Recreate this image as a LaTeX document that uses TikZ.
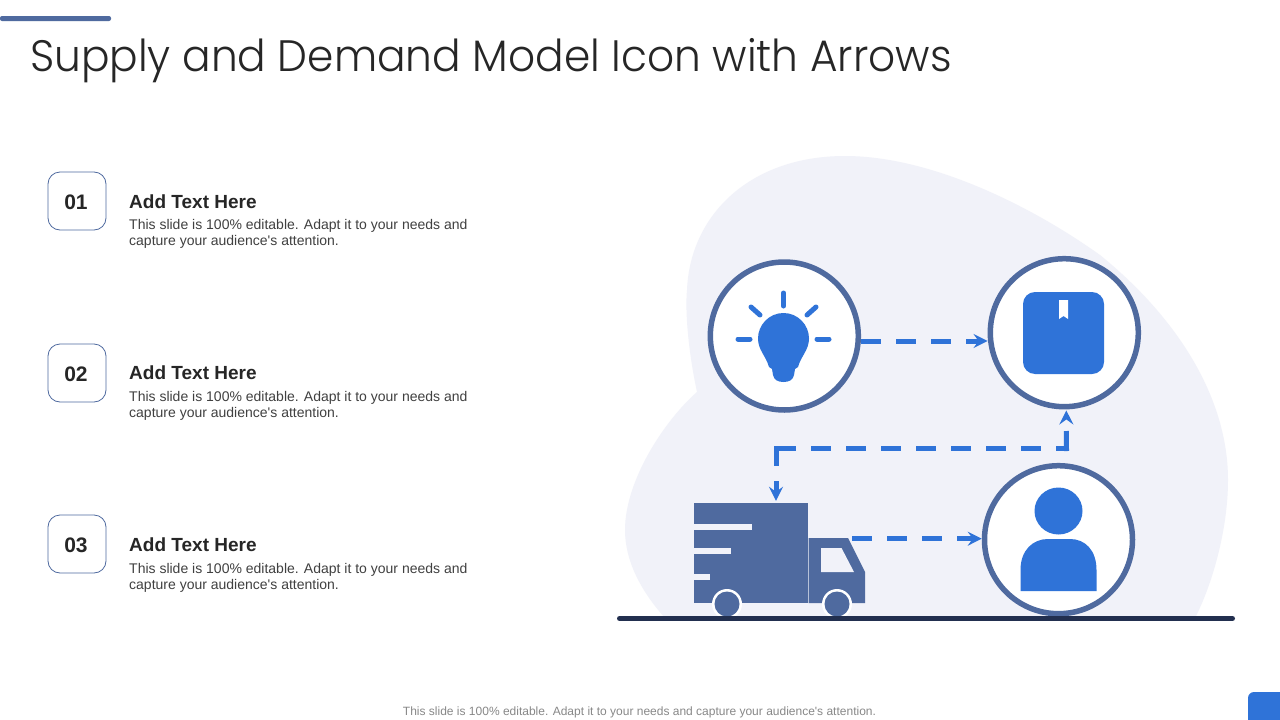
\documentclass[tikz,border=0pt]{standalone}
\usepackage{fontspec}
\usepackage{graphicx}
\setmainfont{Liberation Sans}
\newfontfamily\titlefont{Poppins Light}
\usetikzlibrary{arrows.meta,calc}
\definecolor{blobc}{HTML}{F1F2F9}
\definecolor{ringc}{HTML}{4F6A9F}
\definecolor{bluec}{HTML}{2F73D8}
\definecolor{barc}{HTML}{222F4F}
\definecolor{headc}{HTML}{262626}
\definecolor{bodyc}{HTML}{404040}
\tikzset{
  ringnode/.style={circle,draw=ringc,line width=5.5pt,fill=white,minimum size=148pt,inner sep=0pt},
  numbox/.style={draw=ringc,line width=0.8pt,rounded corners=12pt,minimum size=58pt,inner sep=0pt},
  numtxt/.style={anchor=center,inner sep=0pt,text=headc,font=\fontsize{21}{24}\selectfont\bfseries},
  headtxt/.style={anchor=base west,inner sep=0pt,text=headc,font=\fontsize{19}{22}\selectfont\bfseries},
  bodytxt/.style={anchor=north west,inner sep=0pt,text=bodyc,align=left,font=\fontsize{14}{16}\selectfont},
  dashline/.style={draw=bluec,line width=5pt,dash pattern=on 20pt off 15pt},
  tipped/.style={-{Stealth[length=14pt,width=14pt,inset=5pt]}},
  ray/.style={draw=bluec,line width=5pt,line cap=round},
}
\begin{document}
\begin{tikzpicture}[x=1pt,y=-1pt]
\useasboundingbox (0,0) rectangle (1280,720);
\fill[white] (0,0) rectangle (1280,720);
% header
\fill[ringc,rounded corners=2pt] (0,16) rectangle (111,21);
\node[anchor=base west,inner sep=0pt,text=headc,font=\titlefont\fontsize{44}{50}\selectfont] (title) at (30,71) {\scalebox{0.961}[1]{Supply and Demand Model Icon with Arrows}};
% list
\node[numbox] (n1) at (77,201) {};
\node[numbox] (n2) at (77,373) {};
\node[numbox] (n3) at (77,544) {};
\node[numtxt] (t1) at (76,202) {01};
\node[numtxt] (t2) at (76,374) {02};
\node[numtxt] (t3) at (76,545) {03};
\node[headtxt] (h1) at (129,208) {Add Text Here};
\node[headtxt] (h2) at (129,379) {Add Text Here};
\node[headtxt] (h3) at (129,551) {Add Text Here};
\node[bodytxt] (b1) at (129,219) {This slide is 100\% editable. Adapt it to your needs and\\capture your audience\textquotesingle s attention.};
\node[bodytxt] (b2) at (129,391) {This slide is 100\% editable. Adapt it to your needs and\\capture your audience\textquotesingle s attention.};
\node[bodytxt] (b3) at (129,563) {This slide is 100\% editable. Adapt it to your needs and\\capture your audience\textquotesingle s attention.};
% blob
\fill[blobc] (697,392) .. controls (688,350) and (685,310) .. (687,290)
 .. controls (690,215) and (750,156) .. (845,156)
 .. controls (930,156) and (1030,205) .. (1100,255)
 .. controls (1180,320) and (1228,400) .. (1228,480)
 .. controls (1228,530) and (1212,585) .. (1195,618)
 -- (665,618) .. controls (640,590) and (625,560) .. (625,530)
 .. controls (625,480) and (665,420) .. (697,392) -- cycle;
% circles
\node[ringnode] (bulb) at (784.3,336) {};
\node[ringnode] (box) at (1064.3,332.7) {};
\node[ringnode] (person) at (1058.5,539.7) {};
% bulb icon
\draw[ray] (783.5,293) -- (783.5,306);
\draw[ray] (751,307) -- (760,315);
\draw[ray] (816,307) -- (807,315);
\draw[ray] (738,339) -- (750,339);
\draw[ray] (817,339) -- (829,339);
\fill[bluec] (783.5,313) .. controls (769,313) and (758,325) .. (758,338.5)
 .. controls (758,350) and (766,356) .. (769,367)
 -- (772,369) -- (773,375) .. controls (774,380) and (778,382) .. (783.5,382)
 .. controls (789,382) and (793,380) .. (794,375) -- (795,369) -- (798,367)
 .. controls (801,356) and (809,350) .. (809,338.5)
 .. controls (809,325) and (798,313) .. (783.5,313) -- cycle;
% package icon
\fill[bluec,rounded corners=12pt] (1023,292) rectangle (1104,374);
\fill[white] (1059,300) -- (1068,300) -- (1068,319) -- (1063.5,316) -- (1059,319) -- cycle;
% person icon
\fill[bluec] (1058.5,511) ellipse [x radius=24,y radius=23.5];
\fill[bluec] (1020.5,591) -- (1020.5,570) .. controls (1020.5,550) and (1033,539) .. (1048,539)
 -- (1070,539) .. controls (1085,539) and (1096.5,550) .. (1096.5,570) -- (1096.5,591) -- cycle;
% truck
\node[fill=ringc,inner sep=0pt,minimum width=114pt,minimum height=100pt] (truck) at (751,553) {};
\fill[ringc] (808.7,538) -- (848,538) -- (865,572) -- (865,603) -- (808.7,603) -- cycle;
\fill[blobc] (821,548) -- (841.5,548) -- (854,572) -- (821,572) -- cycle;
\fill[blobc] (694,524) rectangle (752,530);
\fill[blobc] (694,548) rectangle (731,554);
\fill[blobc] (694,574) rectangle (710,580);
\fill[white] (727,604) circle [radius=15];
\fill[white] (837,604) circle [radius=15];
\fill[ringc] (727,604) circle [radius=12.5];
\fill[ringc] (837,604) circle [radius=12.5];
% ground
\draw[barc,line width=5pt,line cap=round] (619.5,618.5) -- (1232.5,618.5);
% connectors
\coordinate (cab) at (852,538.7);
\coordinate (c1) at (776,448.5);
\coordinate (c2) at (1066.5,448.5);
\draw[dashline,tipped] ($(bulb.east)+(0,5)$) -- ($(box.west)+(0,8.3)$);
\draw[dashline,tipped] (cab) -- (cab -| person.west);
\draw[dashline] (c1) -- (c2);
\draw[dashline,tipped] ($(c2)+(0,2.5)$) -- ($(box.south)+(2,1)$);
\draw[dashline,tipped,shorten >=2pt] ($(c1)+(0,-2.5)$) -- (c1 |- truck.north);
% footer
\node[anchor=base,inner sep=0pt,text=headc!55,font=\fontsize{12}{14}\selectfont] (foot) at (639.5,715) {This slide is 100\% editable. Adapt it to your needs and capture your audience\textquotesingle s attention.};
\fill[bluec,rounded corners=6pt] (1248,692) rectangle (1290,730);
\end{tikzpicture}
\end{document}
